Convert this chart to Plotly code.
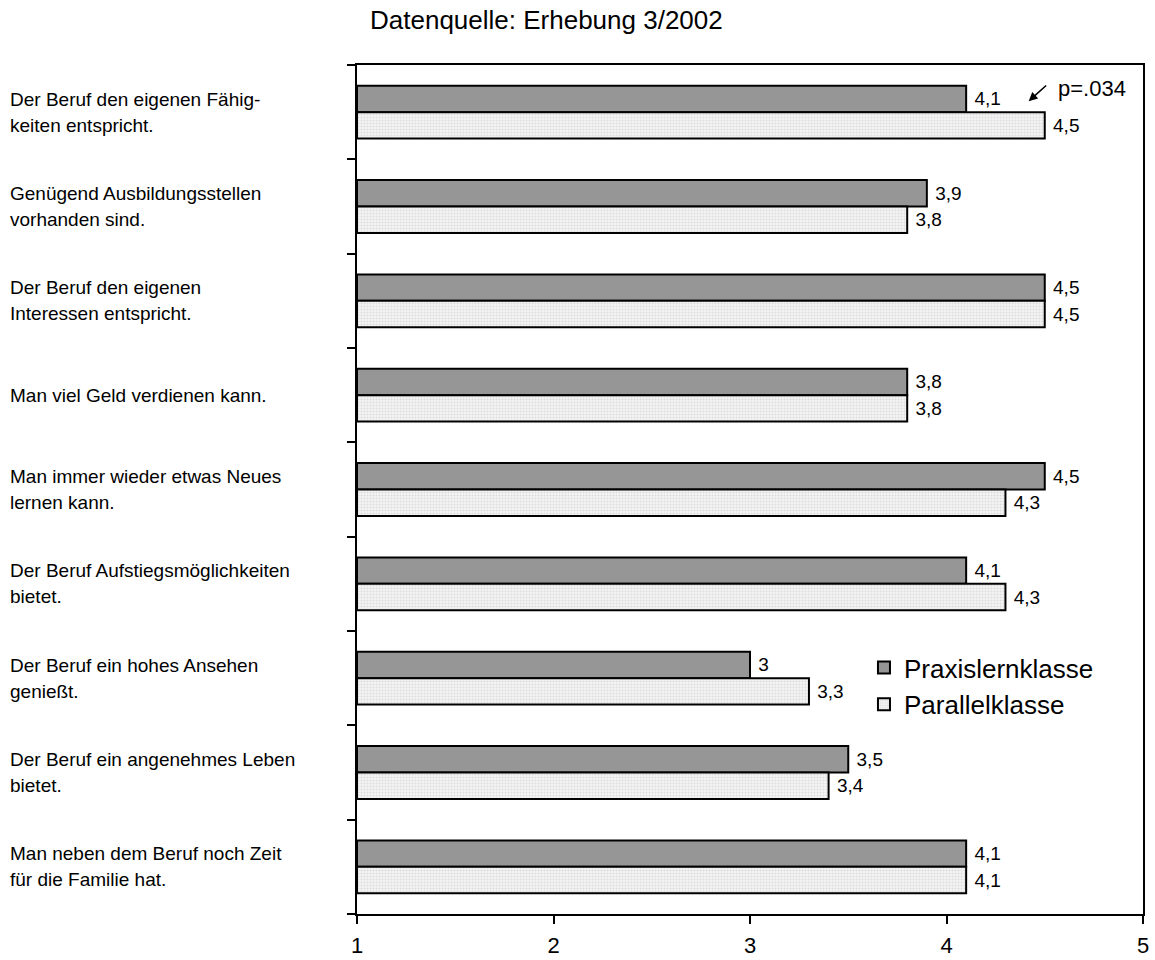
import plotly.graph_objects as go

# Survey items (reasons for choosing a job), top to bottom
items = [
    ["Der Beruf den eigenen Fähig-", "keiten entspricht."],
    ["Genügend Ausbildungsstellen", "vorhanden sind."],
    ["Der Beruf den eigenen", "Interessen entspricht."],
    ["Man viel Geld verdienen kann."],
    ["Man immer wieder etwas Neues", "lernen kann."],
    ["Der Beruf Aufstiegsmöglichkeiten", "bietet."],
    ["Der Beruf ein hohes Ansehen", "genießt."],
    ["Der Beruf ein angenehmes Leben", "bietet."],
    ["Man neben dem Beruf noch Zeit", "für die Familie hat."],
]

praxis = [4.1, 3.9, 4.5, 3.8, 4.5, 4.1, 3.0, 3.5, 4.1]
parallel = [4.5, 3.8, 4.5, 3.8, 4.3, 4.3, 3.3, 3.4, 4.1]

x_ticks = [1, 2, 3, 4, 5]

FONT = "Liberation Sans, Arial, sans-serif"
pos = list(range(len(items)))


def de_num(v):
    return " " + f"{v:g}".replace(".", ",")


fig = go.Figure()
fig.add_trace(go.Bar(
    name="Praxislernklasse", orientation="h",
    y=pos, x=[v - 1 for v in praxis], base=1,
    text=[de_num(v) for v in praxis], textposition="outside",
    textfont=dict(size=19, color="black", family=FONT),
    cliponaxis=False,
    marker=dict(color="#969696", line=dict(color="black", width=2)),
    hoverinfo="skip",
))
fig.add_trace(go.Bar(
    name="Parallelklasse", orientation="h",
    y=pos, x=[v - 1 for v in parallel], base=1,
    text=[de_num(v) for v in parallel], textposition="outside",
    textfont=dict(size=19, color="black", family=FONT),
    cliponaxis=False,
    marker=dict(color="#f0f0f0", line=dict(color="black", width=2),
                pattern=dict(shape=".", fgcolor="#c4c4c4", bgcolor="#f4f4f4",
                             size=3, solidity=0.35)),
    hoverinfo="skip",
))

# Item labels on the left, one annotation per text line
annotations = []
for i, lines in enumerate(items):
    n = len(lines)
    for j, line in enumerate(lines):
        annotations.append(dict(
            text=line, xref="paper", yref="y", x=-0.4435, y=i,
            xanchor="left", yanchor="middle", showarrow=False,
            yshift=(n - 1) * 13 - j * 26,
            font=dict(size=19, color="black", family=FONT),
        ))

# Source note above the chart
annotations.append(dict(
    text="Datenquelle: Erhebung 3/2002", xref="paper", yref="paper",
    x=0.2405, y=1.053, xanchor="center", yanchor="middle", showarrow=False,
    font=dict(size=26, color="black", family=FONT),
))

# Significance marker for the first item
annotations.append(dict(
    text="", xref="x", yref="y", x=4.418, y=-0.117,
    ax=19, ay=-17, showarrow=True, arrowhead=2, arrowsize=1.1,
    arrowwidth=1.6, arrowcolor="black",
))
annotations.append(dict(
    text="p=.034", xref="x", yref="y", x=4.556, y=-0.25,
    xanchor="left", yanchor="middle", showarrow=False,
    font=dict(size=22, color="black", family=FONT),
))

fig.update_layout(
    width=1155, height=960,
    margin=dict(l=357, r=12, t=65, b=46),
    paper_bgcolor="white", plot_bgcolor="white",
    barmode="group", bargap=0.44, bargroupgap=0,
    font=dict(family=FONT, color="black"),
    showlegend=True,
    legend=dict(
        x=0.645, y=0.318, xanchor="left", yanchor="top",
        font=dict(size=26, color="black", family=FONT),
        bgcolor="rgba(0,0,0,0)", itemwidth=30, tracegroupgap=0,
    ),
    annotations=annotations,
)

fig.update_xaxes(
    range=[1, 5], tickvals=x_ticks, ticktext=[str(t) for t in x_ticks],
    showline=True, linecolor="black", linewidth=1.5, mirror=True,
    ticks="outside", ticklen=8, tickcolor="black", tickwidth=1.5,
    tickfont=dict(size=22, color="black", family=FONT),
    ticklabelstandoff=3,
    showgrid=False, zeroline=False, automargin=False,
)
fig.update_yaxes(
    range=[len(items) - 0.5, -0.5],
    tickvals=[k - 0.5 for k in range(len(items) + 1)],
    showticklabels=False,
    showline=True, linecolor="black", linewidth=1.5, mirror=True,
    ticks="outside", ticklen=8, tickcolor="black", tickwidth=1.5,
    showgrid=False, zeroline=False, automargin=False,
)

fig.write_html("out.html")
